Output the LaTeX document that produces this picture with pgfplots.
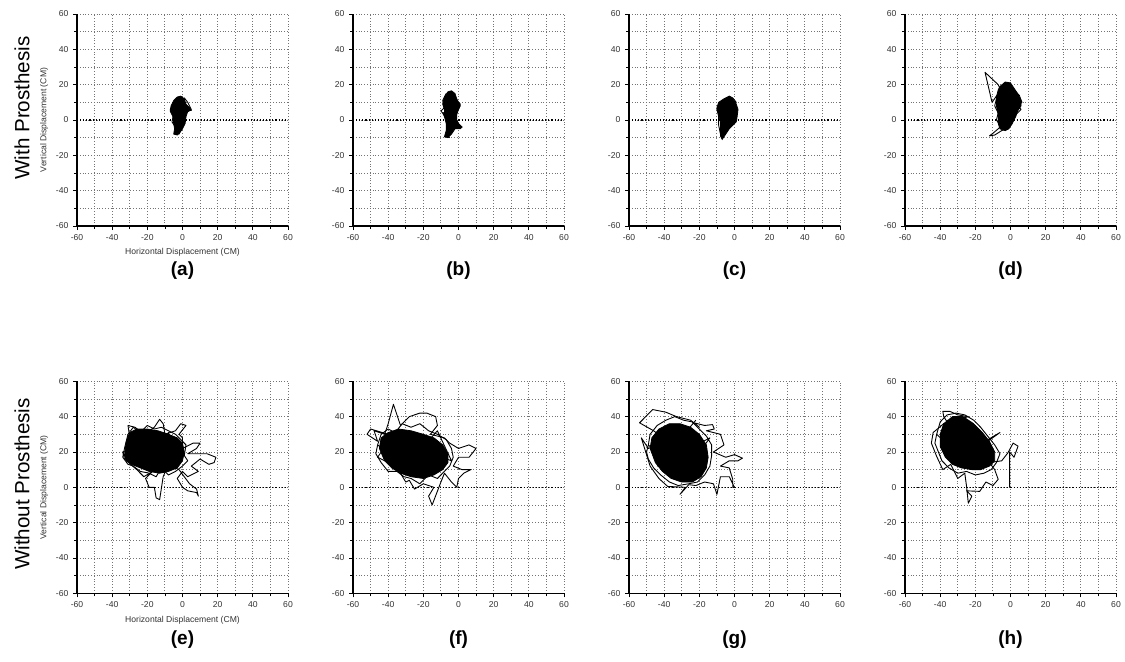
\documentclass[border=0pt]{standalone}
\usepackage{fontspec}
\setmainfont{Liberation Sans}
\usepackage{pgfplots}
\pgfplotsset{compat=1.18}

\pgfplotsset{
  panel/.style={
    scale only axis,
    anchor=south west,
    width=105.5pt, height=106pt,
    xmin=-60, xmax=60, ymin=-60, ymax=60,
    xtick={-60,-40,...,60}, ytick={-60,-40,...,60},
    minor xtick={-50,-30,...,50}, minor ytick={-50,-30,...,50},
    grid=both,
    major grid style={black!55, densely dotted, line width=0.45pt},
    minor grid style={black!55, densely dotted, line width=0.45pt},
    axis x line=bottom, axis y line=left,
    x axis line style={-, line width=0.8pt},
    y axis line style={-, line width=0.8pt},
    tick align=outside,
    major tick length=2pt, minor tick length=1.5pt,
    tick style={black, line width=0.4pt},
    tick label style={font=\fontsize{4.3}{5}\selectfont, text=black!80},
    /pgf/number format/assume math mode=true,
    xticklabel style={yshift=1.2pt},
    yticklabel style={xshift=1.2pt},
    label style={font=\fontsize{4.3}{5}\selectfont, text=black!80},
    no marks,
  },
  zeroline/.style={black, densely dotted, line width=0.55pt},
  core/.style={fill=black, draw=black, line width=0.4pt},
  trace/.style={black, line width=0.45pt, line join=round},
}

\begin{document}
\begin{tikzpicture}
\path[use as bounding box] (0,0) rectangle (562.5pt,330.5pt);

% ---------- row 1: with prosthesis ----------
\begin{axis}[panel, at={(38.5pt,217.5pt)},
  xlabel={Horizontal Displacement (CM)}, ylabel={Vertical Displacement (CM)},
  xlabel style={yshift=3pt}, ylabel style={yshift=-3pt}]
\addplot[zeroline] coordinates {(-60,0) (60,0)};
\addplot[core] coordinates {(-3,13) (-1,13.5) (1,12) (2,9) (4,7) (5,5.5) (3,5) (2,2) (1.5,-2) (0,-5) (-1.5,-7) (-3,-8.5) (-5,-8) (-4.5,-5) (-5,-2) (-5.5,2) (-7,5) (-6.5,8) (-5,11) (-3,13)};
\addplot[trace] coordinates {(-2,10) (1,12.5) (3,10) (5,6) (2,4) (0,1) (-4,-6) (-2,-8) (0,-4)};
\addplot[trace] coordinates {(-5,9) (-7,6) (-5,3) (-6,-1) (-4,-4)};
\end{axis}

\begin{axis}[panel, at={(176.5pt,217.5pt)}]
\addplot[zeroline] coordinates {(-60,0) (60,0)};
\addplot[core] coordinates {(-6,16) (-4,16.5) (-2,15) (-1,12) (0,10) (1,8) (0,6) (-1,3) (-1,0) (0,-2) (2,-4) (1,-5) (-2,-5) (-4,-8) (-6,-10) (-8,-9.5) (-7,-6) (-7,-2) (-8,2) (-8,6) (-9,9) (-8,13) (-6,16)};
\addplot[trace] coordinates {(-5,12) (-1,11) (1,9) (0,6) (-9,4) (-8,2) (-5,-2) (2,-4) (-1,-3) (-7,-9) (-5,-10)};
\addplot[trace] coordinates {(-7,15) (-9,11) (-8,7) (-10,5) (-8,3)};
\end{axis}

\begin{axis}[panel, at={(314.5pt,217.5pt)}]
\addplot[zeroline] coordinates {(-60,0) (60,0)};
\addplot[core] coordinates {(-6,12) (-3,13.5) (-1,12) (1,9) (2,6) (1.5,2) (1,-1) (-1,-3) (-3,-5) (-5,-8) (-7,-11) (-8,-9) (-8,-5) (-8,-1) (-9,3) (-10,7) (-9,10) (-6,12)};
\addplot[trace] coordinates {(-5,11) (-3,13.5) (-1,12.5) (1,10) (-2,5) (-6,-4) (-7,-10.5) (-6,-7) (-8,-6)};
\addplot[trace] coordinates {(-8,10) (-10,6) (-9,2) (-9,-3) (-8,-8) (-6,-9)};
\end{axis}

\begin{axis}[panel, at={(452.5pt,217.5pt)}]
\addplot[zeroline] coordinates {(-60,0) (60,0)};
\addplot[core] coordinates {(-6,19) (-3,21.5) (0,21) (2,18) (4,15) (6,11) (6,8) (4,5) (3,2) (1,-2) (-1,-5) (-3,-6) (-6,-5) (-7,-2) (-7,3) (-8,8) (-8,13) (-7,17) (-6,19)};
\addplot[trace] coordinates {(-5,16) (-7,20) (-14.5,27) (-10.5,10) (-7,15) (-5,12)};
\addplot[trace] coordinates {(-4,-2) (-7,-5) (-10,-7.5) (-12,-9) (-9,-8.5) (-5,-6) (-2,-5) (1,-2)};
\addplot[trace] coordinates {(2,17) (5,14) (6.5,10) (4,8) (6,6) (3,3)};
\addplot[trace] coordinates {(-8,12) (-9,8) (-7,4) (-8,0) (-6,-3)};
\end{axis}

% ---------- row 2: without prosthesis ----------
\begin{axis}[panel, at={(38.5pt,33.85pt)},
  xlabel={Horizontal Displacement (CM)}, ylabel={Vertical Displacement (CM)},
  xlabel style={yshift=3pt}, ylabel style={yshift=-3pt}]
\addplot[zeroline] coordinates {(-60,0) (60,0)};
\addplot[core] coordinates {(-33,18) (-32,26) (-30,31) (-26,33) (-20,33) (-14,32) (-8,30) (-3,28) (0,25) (1,20) (0,15) (-3,11) (-8,9) (-13,8) (-19,9) (-24,11) (-29,13) (-32,15) (-33,18)};
\addplot[trace] coordinates {(-20,20) (-30,28) (-31,35) (-27,34) (-22,30) (-16,34) (-13,38.5) (-11,36) (-10,30) (-4,32) (-1,36) (2,35) (-2,30) (0,28) (0,22) (6,25) (10,25) (8,22) (3,19) (14,19) (19,17) (18,14) (15,13) (10,16) (5,12) (9,9) (3,6) (0,9) (-3,5) (0,0) (3,-2) (8,-3) (9,-5) (8,-1) (4,2) (-2,10) (-8,13) (-11,6) (-13,-7) (-15,-6) (-16,0) (-19,0) (-21,5) (-17,9) (-22,6) (-26,10) (-33,16) (-34,20) (-29,22) (-20,20)};
\addplot[trace] coordinates {(-33,22) (-31,30) (-28,34) (-24,31) (-20,35) (-16,33) (-12,34) (-8,32) (-4,30) (-1,27) (2,24) (1,18) (3,15) (0,12) (-4,9) (-8,7) (-12,11) (-15,6) (-19,8) (-24,9) (-28,12) (-31,13) (-34,17) (-33,22) (-26,26) (-18,11) (-8,31) (-3,16) (-30,24)};
\end{axis}

\begin{axis}[panel, at={(176.5pt,33.85pt)}]
\addplot[zeroline] coordinates {(-60,0) (60,0)};
\addplot[core] coordinates {(-45,22) (-44,28) (-40,31) (-34,33) (-27,32) (-20,30) (-14,28) (-9,24) (-6,19) (-6,14) (-9,10) (-14,7) (-20,5) (-27,6) (-33,8) (-38,11) (-42,15) (-45,22)};
\addplot[trace] coordinates {(-25,20) (-40,30) (-50,33) (-52,30) (-46,26) (-48,32) (-42,30) (-40,36) (-37,47) (-33,35) (-28,40) (-22,42) (-18,42) (-13,40) (-12,35) (-16,30) (-8,28) (-5,25) (0,22) (6,24) (10,22) (6,17) (0,17) (-3,12) (2,10) (7,10) (3,8) (0,5) (-1,0) (-4,3) (-8,8) (-10,3) (-15,-10) (-17,-5) (-14,0) (-20,2) (-25,-1) (-28,4) (-30,3) (-33,8) (-28,12) (-36,10) (-40,14) (-46,17) (-44,20) (-25,20)};
\addplot[trace] coordinates {(-46,24) (-44,30) (-40,33) (-36,31) (-32,36) (-27,34) (-22,36) (-17,32) (-12,30) (-7,27) (-4,22) (-3,17) (-5,12) (-9,8) (-12,5) (-17,7) (-22,2) (-27,5) (-31,6) (-35,9) (-40,9) (-44,14) (-47,19) (-46,24) (-30,12) (-12,32) (-4,15) (-38,28)};
\end{axis}

\begin{axis}[panel, at={(314.5pt,33.85pt)}]
\addplot[zeroline] coordinates {(-60,0) (60,0)};
\addplot[core] coordinates {(-48,22) (-47,28) (-43,33) (-37,36) (-31,36) (-25,34) (-20,30) (-16,24) (-15,17) (-16,11) (-19,6) (-24,3) (-30,3) (-36,5) (-41,9) (-45,14) (-48,22)};
\addplot[trace] coordinates {(-30,20) (-46,32) (-54,36.5) (-46.5,44) (-39,42.5) (-33,40) (-25,38) (-20,34) (-23,36.5) (-17,35) (-12.5,35.5) (-11.5,33) (-16,32) (-8,30) (-6,24) (-12,20) (-5,17) (0,18.5) (4.5,16.5) (2,15) (-3,15) (-8,12) (-3,11) (-1,4.5) (-1,0) (0,0) (-3,6) (-8,6) (-10,-4) (-12,2) (-17,3) (-22,1) (-26,1.5) (-31,-4) (-28,0) (-38,0.5) (-43,5) (-48,12) (-53,28) (-49,22) (-44,24) (-30,20)};
\addplot[trace] coordinates {(-49,24) (-48,30) (-44,35) (-39,38) (-34,40) (-29,38) (-24,37) (-20,33) (-16,29) (-13,24) (-13,18) (-14,12) (-17,7) (-21,3) (-26,2) (-32,1) (-37,3) (-42,7) (-46,11) (-49,16) (-50,20) (-49,24) (-30,6) (-14,28) (-44,12) (-22,38)};
\end{axis}

\begin{axis}[panel, at={(452.5pt,33.85pt)}]
\addplot[zeroline] coordinates {(-60,0) (60,0)};
\addplot[core] coordinates {(-40,30) (-38,36) (-33,40) (-27,40) (-21,36) (-16,31) (-12,26) (-9,20) (-9,15) (-12,12) (-17,10) (-22,10) (-28,11) (-33,13) (-37,17) (-40,23) (-40,30)};
\addplot[trace] coordinates {(-28,25) (-38,40) (-38.5,43) (-34.5,43) (-30,41) (-24,40) (-38,36) (-44,31) (-45,25) (-42,17.5) (-38.5,10) (-34,13) (-30,5) (-26,8) (-25,0.5) (-24,-9) (-22,-5) (-25,-2) (-17.5,-2.3) (-14,3) (-10,1) (-7,4.5) (-9,10) (-12,14) (-5,15) (-1.5,19.5) (1.5,25) (4.3,23.3) (2,17) (-0.5,20) (-0.5,0)};
\addplot[trace] coordinates {(-16,24) (-12.8,27) (-6,31) (-13,26)};
\addplot[trace] coordinates {(-42,30) (-40,37) (-36,41) (-31,42) (-26,41) (-21,38) (-17,34) (-13,29) (-9,24) (-6,19) (-8,14) (-11,10) (-15,8) (-20,7) (-25,9) (-30,8) (-35,11) (-39,15) (-41,20) (-43,25) (-42,30) (-20,10) (-10,22) (-36,38)};
\end{axis}

% ---------- labels ----------
\node[rotate=90, font=\fontsize{10.3}{12}\selectfont] at (11pt,276.5pt) {With Prosthesis};
\node[rotate=90, font=\fontsize{10.3}{12}\selectfont] at (11pt,88.5pt) {Without Prosthesis};
\foreach \lab/\cx in {a/91.25, b/229.25, c/367.25, d/505.25}
  \node[font=\fontsize{9.5}{11}\selectfont\bfseries] at (\cx pt,195pt) {(\lab)};
\foreach \lab/\cx in {e/91.25, f/229.25, g/367.25, h/505.25}
  \node[font=\fontsize{9.5}{11}\selectfont\bfseries] at (\cx pt,10.5pt) {(\lab)};
\end{tikzpicture}
\end{document}
